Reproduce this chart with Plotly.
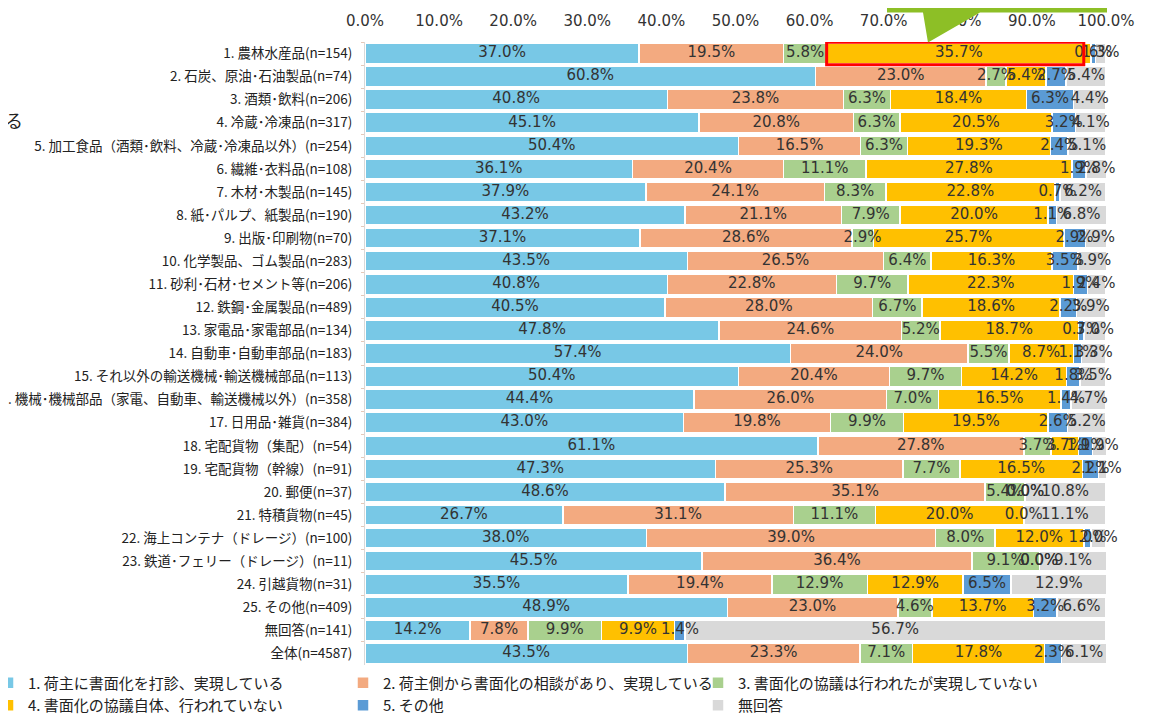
import plotly.graph_objects as go

categories = [
    "1. 農林水産品(n=154)",
    "2. 石炭、原油･石油製品(n=74)",
    "3. 酒類･飲料(n=206)",
    "4. 冷蔵･冷凍品(n=317)",
    "5. 加工食品（酒類･飲料、冷蔵･冷凍品以外）(n=254)",
    "6. 繊維･衣料品(n=108)",
    "7. 木材･木製品(n=145)",
    "8. 紙･パルプ、紙製品(n=190)",
    "9. 出版･印刷物(n=70)",
    "10. 化学製品、ゴム製品(n=283)",
    "11. 砂利･石材･セメント等(n=206)",
    "12. 鉄鋼･金属製品(n=489)",
    "13. 家電品･家電部品(n=134)",
    "14. 自動車･自動車部品(n=183)",
    "15. それ以外の輸送機械･輸送機械部品(n=113)",
    "16. 機械･機械部品（家電、自動車、輸送機械以外）(n=358)",
    "17. 日用品･雑貨(n=384)",
    "18. 宅配貨物（集配）(n=54)",
    "19. 宅配貨物（幹線）(n=91)",
    "20. 郵便(n=37)",
    "21. 特積貨物(n=45)",
    "22. 海上コンテナ（ドレージ）(n=100)",
    "23. 鉄道･フェリー（ドレージ）(n=11)",
    "24. 引越貨物(n=31)",
    "25. その他(n=409)",
    "無回答(n=141)",
    "全体(n=4587)",
]

series_names = [
    "1. 荷主に書面化を打診、実現している",
    "2. 荷主側から書面化の相談があり、実現している",
    "3. 書面化の協議は行われたが実現していない",
    "4. 書面化の協議自体、行われていない",
    "5. その他",
    "無回答",
]

s1 = [37.0, 60.8, 40.8, 45.1, 50.4, 36.1, 37.9, 43.2, 37.1, 43.5, 40.8, 40.5, 47.8, 57.4,
      50.4, 44.4, 43.0, 61.1, 47.3, 48.6, 26.7, 38.0, 45.5, 35.5, 48.9, 14.2, 43.5]
s2 = [19.5, 23.0, 23.8, 20.8, 16.5, 20.4, 24.1, 21.1, 28.6, 26.5, 22.8, 28.0, 24.6, 24.0,
      20.4, 26.0, 19.8, 27.8, 25.3, 35.1, 31.1, 39.0, 36.4, 19.4, 23.0, 7.8, 23.3]
s3 = [5.8, 2.7, 6.3, 6.3, 6.3, 11.1, 8.3, 7.9, 2.9, 6.4, 9.7, 6.7, 5.2, 5.5,
      9.7, 7.0, 9.9, 3.7, 7.7, 5.4, 11.1, 8.0, 9.1, 12.9, 4.6, 9.9, 7.1]
s4 = [35.7, 5.4, 18.4, 20.5, 19.3, 27.8, 22.8, 20.0, 25.7, 16.3, 22.3, 18.6, 18.7, 8.7,
      14.2, 16.5, 19.5, 3.7, 16.5, 0.0, 20.0, 12.0, 0.0, 12.9, 13.7, 9.9, 17.8]
s5 = [0.6, 2.7, 6.3, 3.2, 2.4, 1.9, 0.7, 1.1, 2.9, 3.5, 1.9, 2.2, 0.7, 1.1,
      1.8, 1.4, 2.6, 1.9, 2.2, 0.0, 0.0, 1.0, 0.0, 6.5, 3.2, 1.4, 2.3]
s6 = [1.3, 5.4, 4.4, 4.1, 5.1, 2.8, 6.2, 6.8, 2.9, 3.9, 2.4, 3.9, 3.0, 3.3,
      3.5, 4.7, 5.2, 1.9, 1.1, 10.8, 11.1, 2.0, 9.1, 12.9, 6.6, 56.7, 6.1]

tick_vals = [0, 10, 20, 30, 40, 50, 60, 70, 80, 90, 100]
tick_text = ["0.0%", "10.0%", "20.0%", "30.0%", "40.0%", "50.0%", "60.0%", "70.0%", "80.0%", "90.0%", "100.0%"]

series = [s1, s2, s3, s4, s5, s6]
colors = ["#78C8E6", "#F3AA80", "#A9D08E", "#FFC000", "#5B9BD5", "#D9D9D9"]

fig = go.Figure()
for name, vals, col in zip(series_names, series, colors):
    fig.add_trace(go.Bar(
        y=categories, x=vals, name=name, orientation="h",
        marker=dict(color=col, line=dict(color="white", width=1.5)),
        hoverinfo="x+name",
    ))

# value labels at segment centres
lab_x, lab_y, lab_t = [], [], []
for i, cat in enumerate(categories):
    cum = 0.0
    for vals in series:
        v = vals[i]
        lab_x.append(cum + v / 2)
        lab_y.append(cat)
        lab_t.append(f"{v:.1f}%")
        cum += v
fig.add_trace(go.Scatter(
    x=lab_x, y=lab_y, text=lab_t, mode="text", showlegend=False, hoverinfo="skip",
    textfont=dict(family="DejaVu Sans", size=15, color="#333333"), cliponaxis=False,
))

# page has an 8px body margin: figure is 1152x712, drawn at (8, 8) in the window
W, H, OFF = 1152, 712, 8
# target plot area in window pixels
L, R, T, B = 365, 1106, 41.5, 665.5
def px(x):
    return (x - L) / (R - L)
def py(y):
    return (B - y) / (B - T)

# red highlight around first row's 4th segment
c3 = s1[0] + s2[0] + s3[0]
c4 = c3 + s4[0]
fig.add_shape(type="rect", xref="x", yref="y", x0=c3, x1=c4 - 1.0, y0=-0.49, y1=0.49,
              line=dict(color="#FF0000", width=3), layer="above")

# green callout (partly cut off at top)
pts = [(887, -10), (1107, -10), (1107, 12), (980, 12), (928, 42), (923, 12), (887, 12)]
path = "M " + " L ".join(f"{px(a):.5f},{py(b):.5f}" for a, b in pts) + " Z"
fig.add_shape(type="path", xref="paper", yref="paper", path=path,
              fillcolor="#8DBF26", line=dict(width=0), layer="above")

fig.add_annotation(text="る", xref="paper", yref="paper", x=px(14), y=py(120),
                   xanchor="center", yanchor="middle",
                   showarrow=False, font=dict(family="Noto Sans CJK JP", size=18, color="#222222"))

fig.update_layout(
    barmode="stack",
    bargap=0.13,
    width=W, height=H,
    margin=dict(l=L - OFF, r=W - (R - OFF), t=T - OFF, b=H - (B - OFF), autoexpand=False),
    plot_bgcolor="white", paper_bgcolor="white",
    font=dict(family="Noto Sans CJK JP", color="#333333"),
    xaxis=dict(
        side="top", range=[0, 100], tickvals=tick_vals, ticktext=tick_text,
        showgrid=False, zeroline=False, showline=False, automargin=False,
        ticks="outside", ticklen=9, tickcolor="rgba(0,0,0,0)",
        tickfont=dict(family="DejaVu Sans", size=15, color="#333333"),
    ),
    yaxis=dict(
        autorange=False, range=[len(categories) - 0.5, -0.5],
        showgrid=False, showline=True, linecolor="#D9D9D9",
        automargin=False,
        ticks="outside", ticklen=3, tickcolor="#E6C8B8", tickson="boundaries",
        ticklabelstandoff=9,
        tickfont=dict(family="Noto Sans CJK JP", size=13.5, color="#222222"),
    ),
    legend=dict(
        orientation="h", x=px(-12), y=py(667), xanchor="left", yanchor="top",
        entrywidth=310, entrywidthmode="pixels", traceorder="normal",
        font=dict(family="Noto Sans CJK JP", size=15, color="#222222"),
        bgcolor="rgba(0,0,0,0)",
    ),
)

fig.write_html("out.html")
